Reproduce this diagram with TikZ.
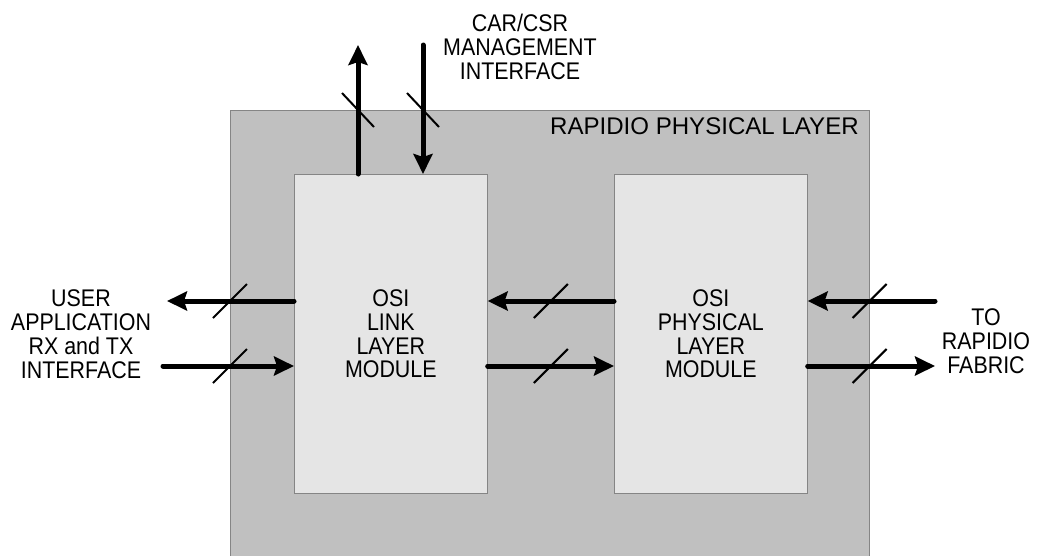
\documentclass[tikz,border=0pt]{standalone}
\usepackage{fontspec}
\setmainfont{Liberation Sans}
\newfontfamily\narrowsans[FakeStretch=0.89]{Liberation Sans}
\usetikzlibrary{arrows.meta, calc}

\definecolor{layergray}{HTML}{C0C0C0}
\definecolor{modgray}{HTML}{E5E5E5}
\definecolor{edgegray}{HTML}{858585}

\begin{document}
\begin{tikzpicture}[x=0.02cm, y=-0.02cm,
	font=\fontsize{13.7}{13.6}\selectfont,
	tag/.style={align=center, font=\fontsize{13.7}{13.6}\narrowsans},
	module/.style={draw=edgegray, fill=modgray, rectangle, minimum width=3.86cm, minimum height=6.38cm, anchor=north west, tag},
	bus/.style={line width=0.1cm, line cap=round, -{Stealth[length=0.4cm, width=0.38cm, inset=0.06cm]}},
	cut/.style={line width=0.04cm}]
		\useasboundingbox (0,0) rectangle (1040,555);
		\node[draw=edgegray, fill=layergray, rectangle, minimum width=12.78cm, minimum height=9.2cm, anchor=north west, label={[anchor=north east, inner xsep=6pt, inner ysep=4pt] north east:RAPIDIO PHYSICAL LAYER}] (rio) at (230,110) {};
		\node[module] (link) at (294,174) {OSI\\LINK\\LAYER\\MODULE};
		\node[module] (phy) at (614,174) {OSI\\PHYSICAL\\LAYER\\MODULE};
		\node[tag] (user) at (81,334) {USER\\APPLICATION\\RX and TX\\INTERFACE};
		\node[tag] (fabric) at (986,341) {TO\\RAPIDIO\\FABRIC};
		\node[tag] (csr) at (520,47) {CAR/CSR\\MANAGEMENT\\INTERFACE};
		\coordinate (hi) at (0,301);
		\coordinate (lo) at (0,366);
		\coordinate (mid) at ($(link.east)!.5!(phy.west)$);
		\coordinate (userout) at (167,301);
		\coordinate (userin) at (163,366);
		\coordinate (fabin) at (935,301);
		\coordinate (fabout) at (935,366);
		\coordinate (csrout) at (358,45);
		\coordinate (csrin) at (423,45);
		\draw[bus] (link.west |- hi) -- (userout);
		\draw[bus] (userin) -- (link.west |- lo);
		\draw[bus] (phy.west |- hi) -- (link.east |- hi);
		\draw[bus] (link.east |- lo) -- (phy.west |- lo);
		\draw[bus] (fabin) -- (phy.east |- hi);
		\draw[bus] (phy.east |- lo) -- (fabout);
		\draw[bus] (csrout |- link.north) -- (csrout);
		\draw[bus] (csrin) -- (csrin |- link.north);
		\foreach \n in {rio.west, mid, rio.east}
			\foreach \l in {hi, lo}
				\draw[cut] (\n |- \l) +(-17,17) -- +(17,-17);
		\foreach \n in {csrout, csrin}
			\draw[cut] (\n |- rio.north) +(-16,-17) -- +(16,17);
	\end{tikzpicture}
\end{document}
